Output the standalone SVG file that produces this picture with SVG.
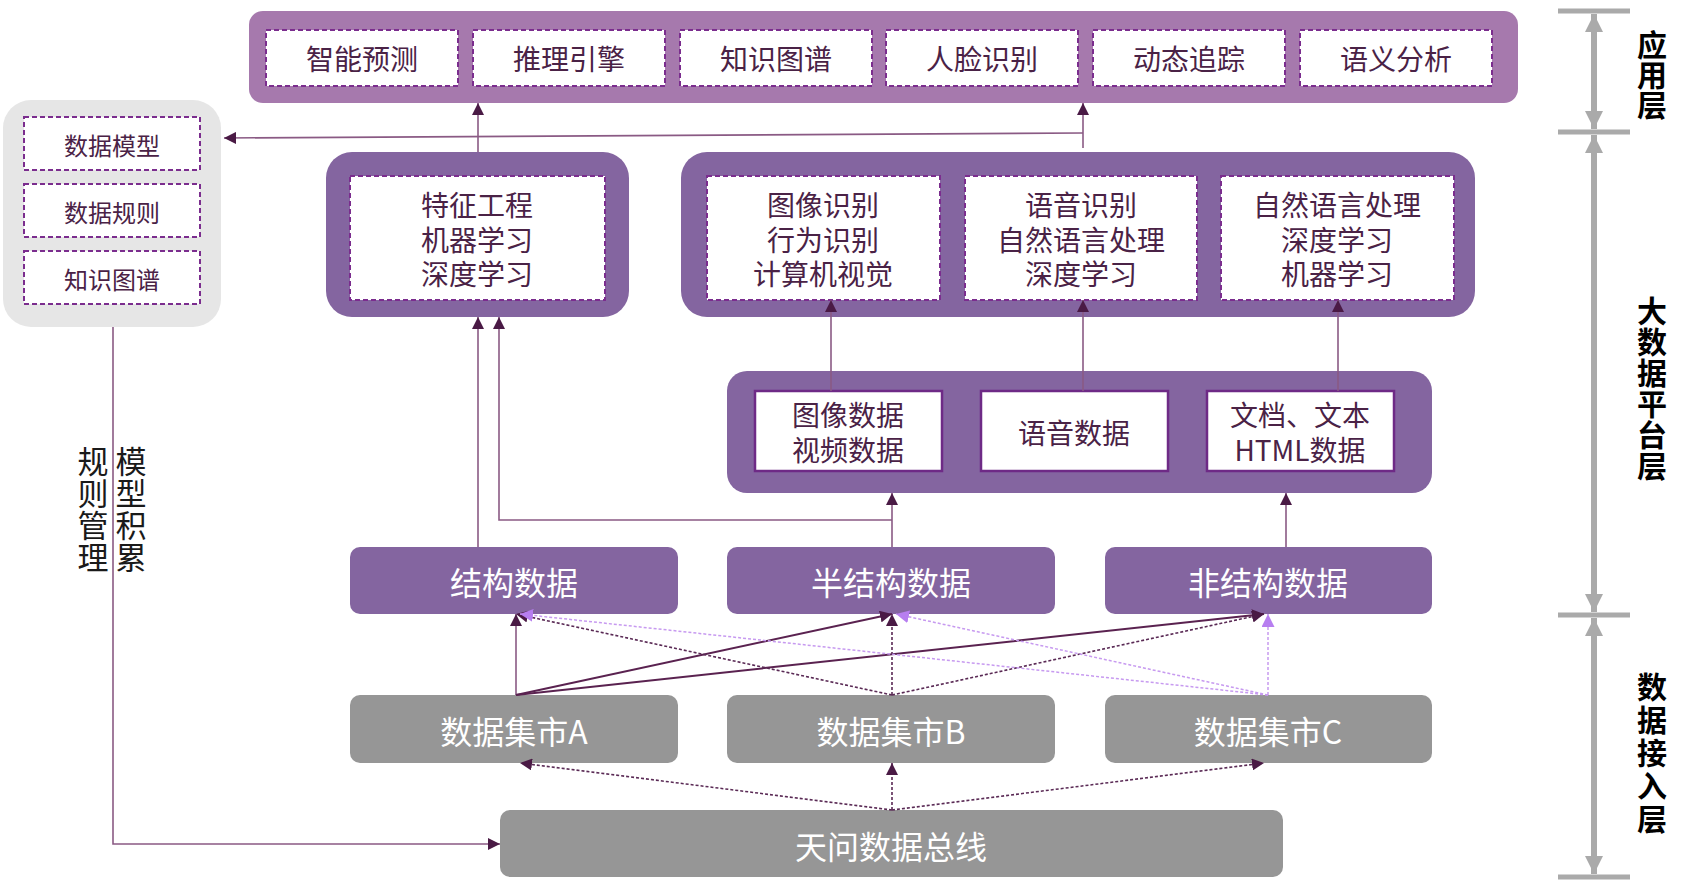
<svg xmlns="http://www.w3.org/2000/svg" width="1685" height="881" viewBox="0 0 1685 881">
<style>
text{font-family:"Noto Sans CJK SC","Liberation Sans",sans-serif;}
.app{fill:#a679ad;}
.plat{fill:#8465a0;}
.dbox{fill:#fff;stroke:#7b2d8e;stroke-width:2;stroke-dasharray:5 3;}
.sbox{fill:#fff;stroke:#6e2a86;stroke-width:2.5;}
.gray{fill:#969696;}
.t{font-size:28px;fill:#4a2246;text-anchor:middle;dominant-baseline:central;}
.tw{font-size:32px;fill:#fff;text-anchor:middle;dominant-baseline:central;}
.tl{font-size:24px;fill:#4a2246;text-anchor:middle;dominant-baseline:central;}
.vt{font-size:31px;fill:#1a1a1a;writing-mode:vertical-rl;letter-spacing:1px;}
.lay{font-size:30px;font-weight:bold;fill:#000;writing-mode:vertical-rl;}
.c{fill:none;stroke:#8a5a84;stroke-width:1.6;}
.cd{fill:none;stroke:#5a2a55;stroke-width:1.6;stroke-dasharray:3 2;}
.cs{fill:none;stroke:#5a2250;stroke-width:2;}
.cl{fill:none;stroke:#c79af0;stroke-width:1.5;stroke-dasharray:3 2;}
.scale{stroke:#aaaaaa;stroke-width:6;fill:none;}
.tick{stroke:#aaaaaa;stroke-width:5;}
</style>
<defs>
<marker id="ar" viewBox="0 0 10 10" refX="10" refY="5" markerWidth="12" markerHeight="12" markerUnits="userSpaceOnUse" orient="auto"><path d="M0,0 L10,5 L0,10 z" fill="#4a1a45"/></marker>
<marker id="al" viewBox="0 0 10 10" refX="10" refY="5" markerWidth="13" markerHeight="13" markerUnits="userSpaceOnUse" orient="auto"><path d="M0,0 L10,5 L0,10 z" fill="#b77ef0"/></marker>
<marker id="ag" viewBox="0 0 10 10" refX="10" refY="5" markerWidth="20" markerHeight="18" markerUnits="userSpaceOnUse" orient="auto"><path d="M0,0 L10,5 L0,10 z" fill="#aaaaaa"/></marker>
</defs>

<!-- Application layer -->
<g id="app-layer">
<rect class="app" x="249" y="11" width="1269" height="92" rx="14"/>
</g>
<g id="app-1"><rect class="dbox" x="266" y="30" width="192" height="56"/><text class="t" x="362" y="58">智能预测</text></g>
<g id="app-2"><rect class="dbox" x="473" y="30" width="192" height="56"/><text class="t" x="569" y="58">推理引擎</text></g>
<g id="app-3"><rect class="dbox" x="680" y="30" width="192" height="56"/><text class="t" x="776" y="58">知识图谱</text></g>
<g id="app-4"><rect class="dbox" x="886" y="30" width="192" height="56"/><text class="t" x="982" y="58">人脸识别</text></g>
<g id="app-5"><rect class="dbox" x="1093" y="30" width="192" height="56"/><text class="t" x="1189" y="58">动态追踪</text></g>
<g id="app-6"><rect class="dbox" x="1300" y="30" width="192" height="56"/><text class="t" x="1396" y="58">语义分析</text></g>

<!-- Left knowledge panel -->
<g id="knowledge-panel">
<rect x="3" y="100" width="218" height="227" rx="28" fill="#e6e6e6"/>
<rect class="dbox" x="24" y="117" width="176" height="53"/><text class="tl" x="112" y="144">数据模型</text>
<rect class="dbox" x="24" y="184" width="176" height="53"/><text class="tl" x="112" y="211">数据规则</text>
<rect class="dbox" x="24" y="251" width="176" height="53"/><text class="tl" x="112" y="278">知识图谱</text>
</g>

<!-- Feature box -->
<g id="feature-box">
<rect class="plat" x="326" y="152" width="303" height="165" rx="26"/>
<rect class="dbox" x="350" y="176" width="255" height="124"/>
<text class="t" x="477" y="204"><tspan x="477" y="204">特征工程</tspan><tspan x="477" y="239">机器学习</tspan><tspan x="477" y="273">深度学习</tspan></text>
</g>

<!-- Platform algorithms -->
<g id="platform-box">
<rect class="plat" x="681" y="152" width="794" height="165" rx="26"/>
</g>
<g id="alg-image"><rect class="dbox" x="707" y="176" width="233" height="124"/>
<text class="t" x="823" y="204"><tspan x="823" y="204">图像识别</tspan><tspan x="823" y="239">行为识别</tspan><tspan x="823" y="273">计算机视觉</tspan></text></g>
<g id="alg-voice"><rect class="dbox" x="965" y="176" width="232" height="124"/>
<text class="t" x="1081" y="204"><tspan x="1081" y="204">语音识别</tspan><tspan x="1081" y="239">自然语言处理</tspan><tspan x="1081" y="273">深度学习</tspan></text></g>
<g id="alg-nlp"><rect class="dbox" x="1221" y="176" width="233" height="124"/>
<text class="t" x="1337" y="204"><tspan x="1337" y="204">自然语言处理</tspan><tspan x="1337" y="239">深度学习</tspan><tspan x="1337" y="273">机器学习</tspan></text></g>

<!-- Data sources -->
<g id="source-box"><rect class="plat" x="727" y="371" width="705" height="122" rx="20"/></g>
<g id="src-image"><rect class="sbox" x="755" y="391" width="187" height="80"/>
<text class="t" x="848" y="414"><tspan x="848" y="414">图像数据</tspan><tspan x="848" y="449">视频数据</tspan></text></g>
<g id="src-voice"><rect class="sbox" x="981" y="391" width="187" height="80"/>
<text class="t" x="1074" y="432">语音数据</text></g>
<g id="src-text"><rect class="sbox" x="1207" y="391" width="187" height="80"/>
<text class="t" x="1300" y="414"><tspan x="1300" y="414">文档、文本</tspan><tspan x="1300" y="449">HTML数据</tspan></text></g>

<!-- Structured data -->
<g id="struct"><rect class="plat" x="350" y="547" width="328" height="67" rx="10"/><text class="tw" x="514" y="581">结构数据</text></g>
<g id="semi"><rect class="plat" x="727" y="547" width="328" height="67" rx="10"/><text class="tw" x="891" y="581">半结构数据</text></g>
<g id="unstruct"><rect class="plat" x="1105" y="547" width="327" height="67" rx="10"/><text class="tw" x="1268" y="581">非结构数据</text></g>

<!-- Data marts -->
<g id="mart-a"><rect class="gray" x="350" y="695" width="328" height="68" rx="10"/><text class="tw" x="514" y="730">数据集市A</text></g>
<g id="mart-b"><rect class="gray" x="727" y="695" width="328" height="68" rx="10"/><text class="tw" x="891" y="730">数据集市B</text></g>
<g id="mart-c"><rect class="gray" x="1105" y="695" width="327" height="68" rx="10"/><text class="tw" x="1268" y="730">数据集市C</text></g>

<!-- Bus -->
<g id="bus"><rect class="gray" x="500" y="810" width="783" height="67" rx="10"/><text class="tw" x="891" y="845">天问数据总线</text></g>

<!-- Connectors -->
<g id="connectors">
<path class="c" d="M478,152 V103" marker-end="url(#ar)"/>
<path class="c" d="M1083,148 V103" marker-end="url(#ar)"/>
<path class="c" d="M1083,133 L224,138" marker-end="url(#ar)"/>
<path class="c" d="M831,391 V300" marker-end="url(#ar)"/>
<path class="c" d="M1083,391 V300" marker-end="url(#ar)"/>
<path class="c" d="M1338,391 V300" marker-end="url(#ar)"/>
<path class="c" d="M478,547 V317" marker-end="url(#ar)"/>
<path class="c" d="M892,547 V493" marker-end="url(#ar)"/>
<path class="c" d="M892,520 H499 V317" marker-end="url(#ar)"/>
<path class="c" d="M1286,547 V493" marker-end="url(#ar)"/>
<path class="c" d="M113,327 V844 H500" marker-end="url(#ar)"/>
<path class="c" d="M516,695 V614" marker-end="url(#ar)"/>
<path class="cs" d="M516,695 L892,614" marker-end="url(#ar)"/>
<path class="cs" d="M516,695 L1264,614" marker-end="url(#ar)"/>
<path class="cd" d="M892,695 L516,614" marker-end="url(#ar)"/>
<path class="cd" d="M892,695 V614" marker-end="url(#ar)"/>
<path class="cd" d="M892,695 L1264,614" marker-end="url(#ar)"/>
<path class="cl" d="M1268,695 L520,614" marker-end="url(#al)"/>
<path class="cl" d="M1268,695 L896,614" marker-end="url(#al)"/>
<path class="cl" d="M1268,695 V614" marker-end="url(#al)"/>
<path class="cd" d="M892,810 L520,763" marker-end="url(#ar)"/>
<path class="cd" d="M892,810 V763" marker-end="url(#ar)"/>
<path class="cd" d="M892,810 L1264,763" marker-end="url(#ar)"/>
</g>

<!-- Side notes -->
<g id="side-notes">
<text class="vt" x="131" y="446">模型积累</text>
<text class="vt" x="93" y="446">规则管理</text>
</g>

<!-- Layer scale -->
<g id="layer-scale">
<line class="tick" x1="1558" y1="11" x2="1630" y2="11"/>
<line class="tick" x1="1558" y1="132" x2="1630" y2="132"/>
<line class="tick" x1="1558" y1="615" x2="1630" y2="615"/>
<line class="tick" x1="1558" y1="877" x2="1630" y2="877"/>
<path class="scale" d="M1594,72 V14" marker-end="url(#ag)"/>
<path class="scale" d="M1594,72 V129" marker-end="url(#ag)"/>
<path class="scale" d="M1594,374 V135" marker-end="url(#ag)"/>
<path class="scale" d="M1594,374 V612" marker-end="url(#ag)"/>
<path class="scale" d="M1594,746 V618" marker-end="url(#ag)"/>
<path class="scale" d="M1594,746 V874" marker-end="url(#ag)"/>
<text class="lay" x="1652" y="30">应用层</text>
<text class="lay" x="1652" y="296" letter-spacing="1">大数据平台层</text>
<text class="lay" x="1652" y="672" letter-spacing="3">数据接入层</text>
</g>
</svg>
